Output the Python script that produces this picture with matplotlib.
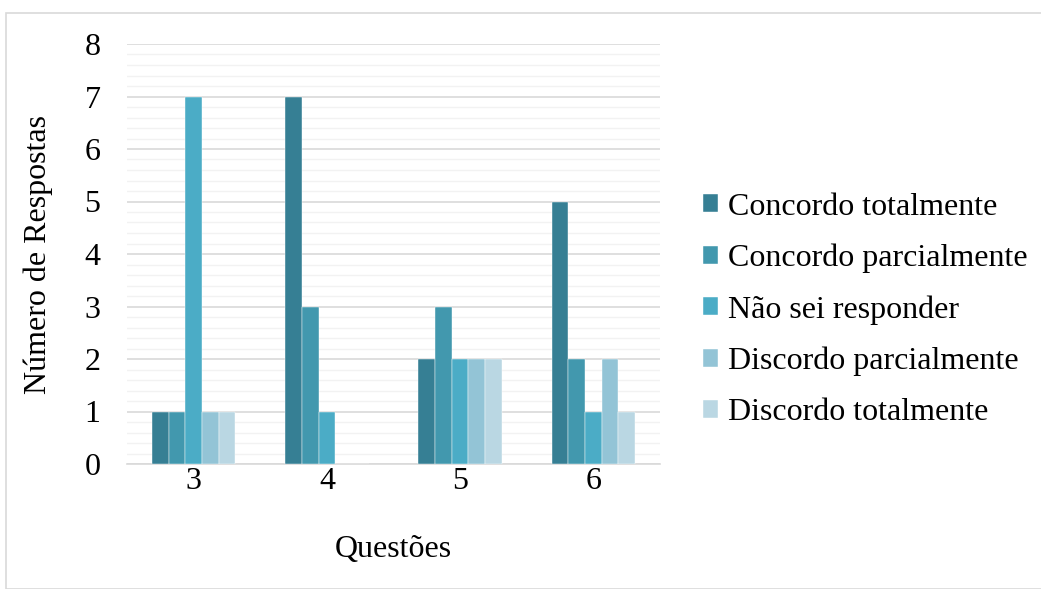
import numpy as np
import matplotlib.pyplot as plt
from matplotlib.patches import Rectangle

plt.rcParams['font.family'] = ['Liberation Serif', 'DejaVu Serif']

questoes = ['3', '4', '5', '6']
categorias = ['Concordo totalmente', 'Concordo parcialmente', 'Não sei responder',
              'Discordo parcialmente', 'Discordo totalmente']
concordo_total = [1, 7, 2, 5]
concordo_parcial = [1, 3, 3, 2]
nao_sei = [7, 1, 2, 1]
discordo_parcial = [1, 0, 2, 2]
discordo_total = [1, 0, 2, 1]
series = [concordo_total, concordo_parcial, nao_sei, discordo_parcial, discordo_total]
cores = ['#367F94', '#4298AE', '#4BACC6', '#93C4D6', '#BAD7E3']

fs = 23

fig = plt.figure(figsize=(10.41, 5.89), dpi=100)
ax = fig.add_axes([127 / 1041, 1 - 464 / 589, 533 / 1041, 420 / 589])

x = np.arange(len(questoes))
w = 0.125
for i, (vals, cor, nome) in enumerate(zip(series, cores, categorias)):
    ax.bar(x + (i - 2) * w, vals, w, color=cor, label=nome, zorder=3,
           edgecolor='white', linewidth=0.3)

ax.set_xlim(-0.5, 3.5)
ax.set_ylim(0, 8)
ax.set_yticks(range(0, 9))
ax.set_yticks(np.arange(0, 8.01, 0.2), minor=True)
ax.set_xticks(x)
ax.set_xticklabels(questoes)
ax.grid(axis='y', which='major', color='#D9D9D9', linewidth=1.2, zorder=0)
ax.grid(axis='y', which='minor', color='#F2F2F2', linewidth=1.0, zorder=0)
ax.tick_params(axis='both', which='both', length=0, labelsize=fs, colors='black')
ax.tick_params(axis='y', pad=19)
ax.tick_params(axis='x', pad=2)
for s in ['top', 'right', 'left']:
    ax.spines[s].set_visible(False)
ax.spines['bottom'].set_color('#D9D9D9')
ax.spines['bottom'].set_linewidth(1.2)

ax.set_xlabel('Questões', fontsize=fs, labelpad=28)
ax.set_ylabel('Número de Respostas', fontsize=fs, labelpad=23)

leg = ax.legend(loc='center left', bbox_to_anchor=(1.027, 0.367), frameon=False,
                fontsize=fs, handlelength=0.48, handleheight=0.48, handletextpad=0.3,
                labelspacing=0.69)

# moldura externa do gráfico
fig.patches.append(Rectangle((6 / 1041, 0), 1, 1 - 13 / 589, transform=fig.transFigure,
                             fill=False, edgecolor='#D9D9D9', linewidth=1.2))

fig.savefig('out.png', dpi=100)
